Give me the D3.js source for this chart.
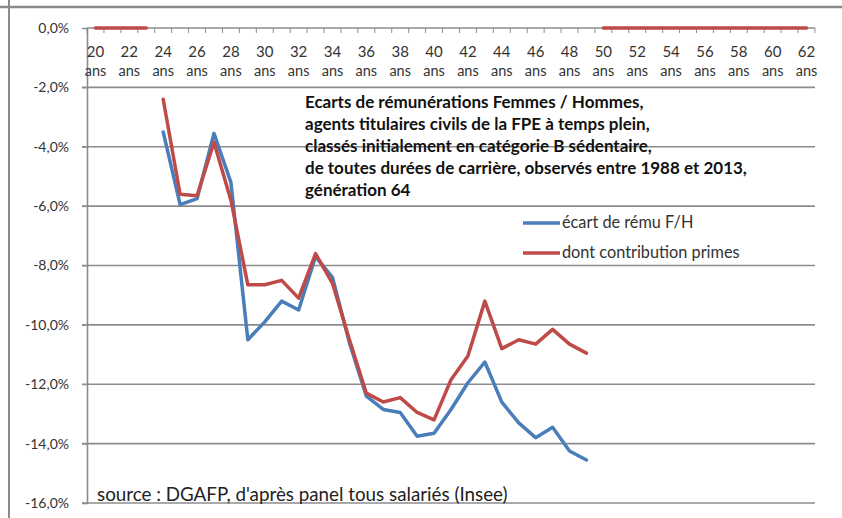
<!DOCTYPE html>
<html><head><meta charset="utf-8">
<script src="https://cdn.jsdelivr.net/npm/d3@7"></script>
<style>body{margin:0;background:#fff;} svg{display:block;}</style>
</head><body>
<svg id="c" width="842" height="518"></svg>
<script>
const ages = d3.range(20, 63);
const dataAges = d3.range(24, 50);
const ecart = [-3.5,-5.95,-5.75,-3.55,-5.2,-10.5,-9.9,-9.2,-9.5,-7.7,-8.4,-10.6,-12.4,-12.85,-12.95,-13.75,-13.65,-12.85,-11.95,-11.25,-12.6,-13.3,-13.8,-13.45,-14.25,-14.55];
const primes = [-2.4,-5.6,-5.65,-3.85,-5.8,-8.65,-8.65,-8.5,-9.1,-7.6,-8.6,-10.5,-12.3,-12.6,-12.45,-12.95,-13.2,-11.85,-11.05,-9.2,-10.8,-10.5,-10.65,-10.15,-10.65,-10.95];
const zeroAgesA = [20,21,22,23];
const zeroAgesB = d3.range(50, 63);
const yTicks = [0,-2,-4,-6,-8,-10,-12,-14,-16];
const titleLines = ["Ecarts de rémunérations Femmes / Hommes,","agents titulaires civils de la FPE à temps plein,","classés initialement en catégorie B sédentaire,","de toutes durées de carrière, observés entre 1988 et 2013,","génération 64"];
const seriesNames = ["écart de rému F/H","dont contribution primes"];
const sourceText = "source : DGAFP, d'après panel tous salariés (Insee)";

const svg = d3.select("#c");
const blue = "#4a7ebb", red = "#be4b48";
const FONT = "Lato, sans-serif";
const x = d3.scaleBand().domain(ages).range([87, 815]);
const y = d3.scaleLinear().domain([-16, 0]).range([503, 28]);
const cx = a => x(a) + x.bandwidth()/2;

// frame
svg.append("line").attr("x1",0).attr("x2",842).attr("y1",7).attr("y2",7).attr("stroke","#8a8a8a").attr("stroke-width",2.5);
svg.append("line").attr("x1",9).attr("x2",9).attr("y1",0).attr("y2",518).attr("stroke","#8a8a8a").attr("stroke-width",2);

// gridlines
svg.append("g").selectAll("line").data(yTicks.filter(d=>d!==0)).join("line")
  .attr("x1",82).attr("x2",815).attr("y1",d=>y(d)).attr("y2",d=>y(d))
  .attr("stroke","#8c8c8c").attr("stroke-width",1.6);

// y axis
const yAxis = svg.append("g").attr("transform","translate(87,0)")
  .call(d3.axisLeft(y).tickValues(yTicks).tickSize(5).tickFormat(d => d.toFixed(1).replace(".",",") + "%"));
yAxis.select(".domain").attr("stroke","#8c8c8c").attr("stroke-width",1.6);
yAxis.selectAll(".tick line").attr("stroke","#8c8c8c");
yAxis.selectAll("text").attr("font-family",FONT).attr("font-size",14).attr("fill","#333").attr("x",-18).attr("dy","0.32em");

// x axis at 0
const xg = svg.append("g");
xg.append("line").attr("x1",87).attr("x2",815).attr("y1",y(0)).attr("y2",y(0)).attr("stroke","#8c8c8c").attr("stroke-width",1.3);
xg.selectAll("line.t").data(ages.concat([63])).join("line").attr("class","t")
  .attr("x1",a=>a===63?815:x(a)).attr("x2",a=>a===63?815:x(a))
  .attr("y1",y(0)).attr("y2",y(0)+5).attr("stroke","#8c8c8c").attr("stroke-width",1);
const labAges = ages.filter(a => a % 2 === 0);
xg.selectAll("text.n").data(labAges).join("text").attr("class","n")
  .attr("x",cx).attr("y",57).attr("text-anchor","middle")
  .attr("font-family",FONT).attr("font-size",15).attr("fill","#333").text(d=>d);
xg.selectAll("text.a").data(labAges).join("text").attr("class","a")
  .attr("x",cx).attr("y",76).attr("text-anchor","middle")
  .attr("font-family",FONT).attr("font-size",14.5).attr("fill","#333").text("ans");

// lines
const line = d3.line().x(d=>cx(d[0])).y(d=>y(d[1]));
function drawLine(data, color){
  svg.append("path").datum(data).attr("d",line).attr("fill","none").attr("stroke",color)
    .attr("stroke-width",3.5).attr("stroke-linejoin","round").attr("stroke-linecap","round");
}
drawLine(dataAges.map((a,i)=>[a,ecart[i]]), blue);
drawLine(dataAges.map((a,i)=>[a,primes[i]]), red);
drawLine(zeroAgesA.map(a=>[a,0]), red);
drawLine(zeroAgesB.map(a=>[a,0]), red);

// title
svg.append("g").selectAll("text").data(titleLines).join("text")
  .attr("x",305).attr("y",(d,i)=>108+i*22)
  .attr("font-family",FONT).attr("font-weight","bold").attr("font-size",17).attr("fill","#111")
  .text(d=>d);

// legend
const leg = svg.append("g");
[blue, red].forEach((c,i)=>{
  leg.append("line").attr("x1",523).attr("x2",560).attr("y1",223+i*30).attr("y2",223+i*30).attr("stroke",c).attr("stroke-width",3.5);
  leg.append("text").attr("x",562).attr("y",228+i*30).attr("font-family",FONT).attr("font-size",16.3).attr("fill","#333").text(seriesNames[i]);
});

// source
svg.append("text").attr("x",97).attr("y",501).attr("font-family",FONT).attr("font-size",18.8).attr("fill","#222").text(sourceText);
</script>
</body></html>
